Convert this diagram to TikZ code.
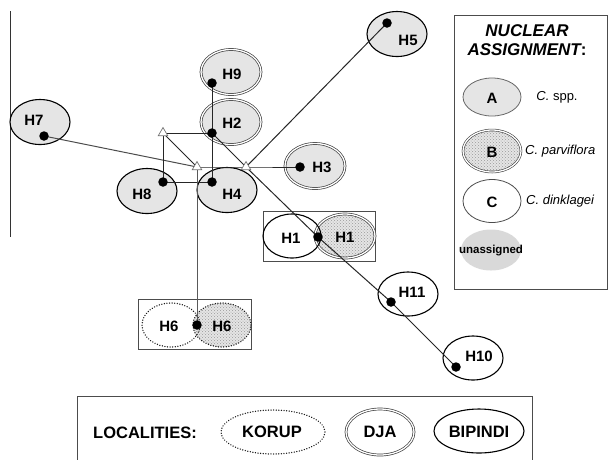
\documentclass[tikz,border=0pt]{standalone}
\usepackage{fontspec}
\setmainfont{Liberation Sans}
\usetikzlibrary{shapes.geometric,patterns}
\begin{document}
\begin{tikzpicture}[x=1pt,y=-1pt,
  hap/.style={ellipse, inner sep=0pt, minimum width=60pt, minimum height=45pt},
  bip/.style={hap, draw=black, line width=1.1pt},
  dja/.style={hap, draw=black!75, double=white, double distance=1.3pt, line width=0.7pt},
  kor/.style={hap, draw=black!90, line width=1.4pt, dash pattern=on 0.1pt off 2.5pt, line cap=round},
  grayA/.style={fill=black!10},
  stip/.style={preaction={fill=black!10}, pattern=crosshatch dots, pattern color=black!40},
  hdot/.style={circle, fill=black, inner sep=0pt, minimum size=9.5pt},
  tri/.style={regular polygon, regular polygon sides=3, draw=black!55, fill=white, inner sep=0pt, minimum size=11pt, line width=0.7pt},
  htext/.style={font=\fontsize{15}{15}\selectfont\bfseries, inner sep=0pt},
  ltext/.style={font=\fontsize{16.5}{16.5}\selectfont\bfseries, inner sep=0pt},
  conn/.style={draw=black!85, line width=1pt},
  boxline/.style={draw=black!70, line width=1pt}
]
\useasboundingbox (0,0) rectangle (609,459);
% left axis line
\coordinate (ax1) at (10,11);
\coordinate (ax2) at (10,237);
\draw[black!80, line width=1pt] (ax1) -- (ax2);

% boxes
\node[boxline, rectangle, minimum width=112pt, minimum height=50pt, inner sep=0pt] (b1) at (319,236) {};
\node[boxline, rectangle, minimum width=113pt, minimum height=50pt, inner sep=0pt] (b6) at (194.5,324) {};

% haplotype ellipses
\node[dja, grayA] (e9) at (231,72) {};
\node[dja, grayA] (e2) at (231,122) {};
\node[bip, grayA] (e7) at (40,122) {};
\node[bip, grayA] (e8) at (147,191) {};
\node[bip, grayA] (e4) at (227,190) {};
\node[dja, grayA] (e3) at (315,166) {};
\node[bip, grayA] (e5) at (397,34) {};
\node[dja, stip, minimum width=60pt, minimum height=44pt] (e1b) at (345,236) {};
\node[bip, minimum width=58pt, minimum height=44pt] (e1a) at (292,236) {};
\node[bip, fill=white, minimum height=44pt] (e11) at (408,294) {};
\node[bip, fill=white, minimum height=44pt] (e10) at (473,358) {};
\node[kor, stip, minimum width=58pt, minimum height=44pt] (e6b) at (222,325) {};
\node[kor, minimum width=58pt, minimum height=44pt] (e6a) at (171,325) {};

% dots and median vectors (positions)
\coordinate (c9) at (212,83);
\coordinate (c2) at (212,133);
\coordinate (c7) at (44,136);
\coordinate (c8) at (163,182);
\coordinate (c4) at (212,182);
\coordinate (c3) at (300,167);
\coordinate (c5) at (387,23);
\coordinate (c1) at (318,237);
\coordinate (c11) at (391,302);
\coordinate (c10) at (456,367);
\coordinate (c6) at (197,325);
\coordinate (cT1) at (163,133);
\coordinate (cT2) at (197,167);
\coordinate (cT3) at (246,167);

% connectors
\draw[conn, draw=black!70] (c7) -- (cT2);
\draw[conn] (cT1) -- (c8);
\draw[conn] (cT1) -- (c2);
\draw[conn] (cT1) -- (cT2);
\draw[conn] (c8) -- (c4);
\draw[conn] (c9) -- (c4);
\draw[conn] (cT2) -- (cT3) -- (c3);
\draw[conn] (c2) -- (cT3) -- (c1) -- (c11) -- (c10);
\draw[conn] (cT3) -- (c5);
\draw[conn, draw=black!65] (cT2) -- (c6);

% dots
\foreach \n in {9,2,7,8,4,3,5,1,11,10,6} {\node[hdot] (d\n) at (c\n) {};}
\node[tri] (T1) at (cT1) {};
\node[tri] (T2) at (cT2) {};
\node[tri] (T3) at (cT3) {};

% labels
\node[htext] (t9) at (232,74) {H9};
\node[htext] (t2) at (232,123) {H2};
\node[htext] (t7) at (34,120) {H7};
\node[htext] (t8) at (142,194) {H8};
\node[htext] (t4) at (232,194) {H4};
\node[htext] (t3) at (322,167) {H3};
\node[htext] (t5) at (408,40) {H5};
\node[htext] (t1a) at (291,238) {H1};
\node[htext] (t1b) at (345,237) {H1};
\node[htext] (t11) at (412,292) {H11};
\node[htext] (t10) at (479,356) {H10};
\node[htext] (t6a) at (169,326) {H6};
\node[htext] (t6b) at (222,326) {H6};

% nuclear assignment legend
\node[boxline, rectangle, minimum width=153pt, minimum height=274pt, inner sep=0pt] (nbox) at (530.5,152) {};
\node[font=\fontsize{17}{19}\selectfont\bfseries\itshape, align=center, inner sep=0pt] (ntitle) at (527,40) {NUCLEAR\\ASSIGNMENT\upshape:};
\node[bip, grayA, draw=black!60, line width=0.8pt, minimum width=58pt, minimum height=38pt] (la) at (492,97) {};
\node[htext] (lat) at (492,98) {A};
\node[font=\fontsize{13}{13}\selectfont, inner sep=0pt] (las) at (557,97) {\itshape C.\upshape\ spp.};
\node[dja, stip, line width=0.6pt, minimum width=58pt, minimum height=42pt] (lb) at (492,151) {};
\node[htext] (lbt) at (492,152) {B};
\node[font=\fontsize{13}{13}\selectfont\itshape, inner sep=0pt, anchor=west] (lbs) at (525,151) {C. parviflora};
\node[bip, draw=black!70, line width=0.8pt, fill=white, minimum width=58pt, minimum height=43pt] (lc) at (492,201) {};
\node[htext] (lct) at (492,202) {C};
\node[font=\fontsize{13}{13}\selectfont\itshape, inner sep=0pt, anchor=west] (lcs) at (526,201) {C. dinklagei};
\node[hap, fill=black!15, minimum width=60pt, minimum height=41pt] (lu) at (491,250) {};
\node[font=\fontsize{11.5}{12}\selectfont\bfseries, inner sep=0pt] (lut) at (491,251) {unassigned};

% localities legend
\coordinate (lb1) at (77,462);
\coordinate (lb2) at (77,396);
\coordinate (lb3) at (532,396);
\coordinate (lb4) at (532,462);
\draw[boxline] (lb1) -- (lb2) -- (lb3) -- (lb4);
\node[ltext] (loc) at (145,433) {LOCALITIES:};
\node[kor, minimum width=104pt, minimum height=44pt] (kor) at (273,432) {};
\node[ltext] (kort) at (272,432) {KORUP};
\node[dja, minimum width=68pt, minimum height=46pt] (dja) at (380,432) {};
\node[ltext] (djat) at (380,432) {DJA};
\node[bip, minimum width=90pt, minimum height=44pt] (bip) at (479,431) {};
\node[ltext] (bipt) at (479,432) {BIPINDI};
\end{tikzpicture}
\end{document}
